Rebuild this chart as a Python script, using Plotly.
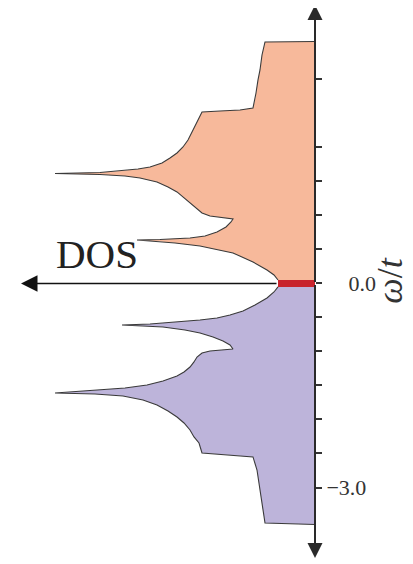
import plotly.graph_objects as go

# Upper band (omega > 0), DOS values (arbitrary units)
UP_OMEGA = [0.051, 0.125, 0.199, 0.316, 0.449, 0.551, 0.596, 0.625, 0.640, 0.647, 0.669, 0.699,
            0.757, 0.831, 0.904, 0.949, 0.993, 1.037, 1.110, 1.184, 1.272, 1.346, 1.419, 1.493,
            1.551, 1.581, 1.603, 1.618, 1.632, 1.654, 1.684, 1.713, 1.772, 1.846, 1.919, 2.007,
            2.110, 2.257, 2.404, 2.522, 2.537, 2.551, 2.581, 2.699, 2.801, 2.993, 3.140, 3.360, 3.551]
UP_DOS = [0.37, 0.41, 0.48, 0.62, 0.82, 1.15, 1.40, 1.60, 1.78, 1.55, 1.25, 1.10,
          0.98, 0.89, 0.84, 0.82, 1.05, 1.13, 1.19, 1.25, 1.32, 1.38, 1.47, 1.58,
          1.75, 1.90, 2.15, 2.60, 2.15, 1.95, 1.77, 1.65, 1.53, 1.45, 1.38, 1.32,
          1.27, 1.22, 1.17, 1.13, 0.95, 0.75, 0.62, 0.60, 0.59, 0.57, 0.55, 0.53, 0.50]
UP_TOP = 3.559

# Lower band (omega < 0)
LO_OMEGA = [-0.051, -0.125, -0.213, -0.316, -0.404, -0.463, -0.507, -0.537, -0.566, -0.596, -0.610,
            -0.625, -0.640, -0.684, -0.728, -0.787, -0.846, -0.904, -0.963, -0.993, -1.022, -1.081,
            -1.154, -1.228, -1.301, -1.360, -1.434, -1.493, -1.537, -1.566, -1.610, -1.625, -1.654,
            -1.713, -1.787, -1.875, -1.963, -2.051, -2.154, -2.257, -2.346, -2.493, -2.522, -2.551,
            -2.743, -3.037, -3.331, -3.522]
LO_DOS = [0.37, 0.41, 0.48, 0.60, 0.72, 0.85, 0.98, 1.15, 1.40, 1.65, 1.93,
          1.70, 1.52, 1.30, 1.15, 1.02, 0.92, 0.85, 0.82, 1.05, 1.13, 1.18,
          1.21, 1.25, 1.31, 1.38, 1.52, 1.68, 1.90, 2.18, 2.60, 2.20, 1.92,
          1.72, 1.58, 1.47, 1.38, 1.31, 1.25, 1.21, 1.16, 1.13, 0.85, 0.62,
          0.58, 0.55, 0.52, 0.50]
LO_BOTTOM = -3.544

# In-gap states
GAP_OMEGA = [-0.05, 0.05]
GAP_DOS = [0.37, 0.37]

TICK_VALUES = [-3.0, -2.5, -2.0, -1.5, -1.0, -0.5, 0.0, 0.5, 1.0, 1.5, 2.0, 3.0]
TICK_LABELS = ["\u22123.0", "", "", "", "", "", "\u20030.0", "", "", "", "", ""]

ORANGE = "#F7B99B"
PURPLE = "#BDB4DA"
RED = "#C8232C"
EDGE = "#3a3a3a"

# page body has an 8px margin: the figure is sized to fit inside the window
W, H, OFF = 405, 556, 8

fig = go.Figure()

fig.add_trace(go.Scatter(x=[0] + UP_DOS + [0], y=[UP_OMEGA[0]] + UP_OMEGA + [UP_TOP],
                         fill="toself", fillcolor=ORANGE, mode="none", hoverinfo="skip"))
fig.add_trace(go.Scatter(x=[0] + LO_DOS + [0], y=[LO_OMEGA[0]] + LO_OMEGA + [LO_BOTTOM],
                         fill="toself", fillcolor=PURPLE, mode="none", hoverinfo="skip"))
fig.add_trace(go.Scatter(x=UP_DOS + [0], y=UP_OMEGA + [UP_TOP], mode="lines",
                         line=dict(color=EDGE, width=1.1), hoverinfo="skip"))
fig.add_trace(go.Scatter(x=LO_DOS + [0], y=LO_OMEGA + [LO_BOTTOM], mode="lines",
                         line=dict(color=EDGE, width=1.1), hoverinfo="skip"))
fig.add_trace(go.Scatter(x=[0] + GAP_DOS + [0], y=[GAP_OMEGA[0]] + GAP_OMEGA + [GAP_OMEGA[1]],
                         fill="toself", fillcolor=RED, mode="none", hoverinfo="skip"))

AX_X = (315 - OFF) / W
fig.update_layout(
    width=W, height=H,
    margin=dict(l=0, r=0, t=0, b=0),
    paper_bgcolor="white", plot_bgcolor="white",
    showlegend=False,
    xaxis=dict(range=[3.07, -0.98], visible=False, fixedrange=True),
    yaxis=dict(range=[-4.125, 4.051], anchor="free", position=AX_X, side="right",
               automargin=False,
               showgrid=False, zeroline=False, showline=False,
               ticks="outside", ticklen=6, tickwidth=1.5, tickcolor="#333",
               tickvals=TICK_VALUES, ticktext=TICK_LABELS,
               tickfont=dict(family="Liberation Serif", size=22, color="#333")),
)

for tip in (4.096, -4.037):
    fig.add_annotation(x=0, y=tip, ax=0, ay=0, xref="x", yref="y", axref="x", ayref="y",
                       text="", showarrow=True, arrowhead=2, arrowsize=1.5, arrowwidth=2,
                       arrowcolor="#2a2a2a", standoff=0, startstandoff=0)
fig.add_annotation(x=2.94, y=0, ax=0.37, ay=0, xref="x", yref="y", axref="x", ayref="y",
                   text="", showarrow=True, arrowhead=2, arrowsize=2.2, arrowwidth=1.5,
                   arrowcolor="#111", standoff=0, startstandoff=0)

fig.add_annotation(x=2.18, y=0.43, xref="x", yref="y", text="DOS", showarrow=False,
                   font=dict(family="Liberation Serif", size=41, color="#222"))
fig.add_annotation(x=(390 - OFF) / W, y=0.04, xref="paper", yref="y", text="<i>ω</i>/<i>t</i>",
                   xanchor="center", yanchor="middle",
                   textangle=-90, showarrow=False,
                   font=dict(family="Liberation Serif", size=36, color="#333"))

fig.write_html("out.html")
